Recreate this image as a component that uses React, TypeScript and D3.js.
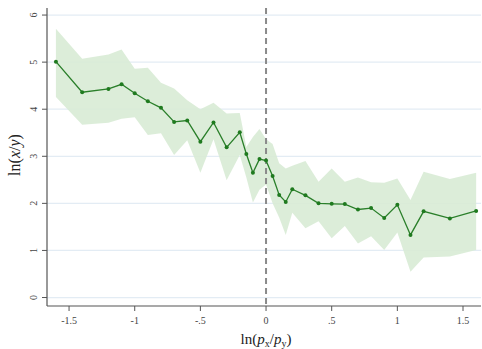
import React from "react";
import * as d3 from "d3";

const xs = [-1.6, -1.4, -1.2, -1.1, -1.0, -0.9, -0.8, -0.7, -0.6, -0.5, -0.4, -0.3, -0.2, -0.15, -0.1, -0.05, 0, 0.05, 0.1, 0.15, 0.2, 0.3, 0.4, 0.5, 0.6, 0.7, 0.8, 0.9, 1.0, 1.1, 1.2, 1.4, 1.6];
const est = [5.01, 4.36, 4.43, 4.53, 4.34, 4.17, 4.03, 3.73, 3.76, 3.31, 3.72, 3.19, 3.51, 3.05, 2.65, 2.94, 2.91, 2.58, 2.18, 2.03, 2.30, 2.17, 2.0, 1.99, 1.985, 1.87, 1.90, 1.69, 1.97, 1.33, 1.83, 1.68, 1.84];
const upper = [5.71, 5.07, 5.16, 5.27, 4.86, 4.88, 4.56, 4.44, 4.19, 4.0, 4.14, 3.91, 3.92, 3.2, 3.41, 3.58, 3.36, 3.26, 2.85, 2.74, 2.8, 2.9, 2.46, 2.74, 2.46, 2.55, 2.45, 2.44, 2.53, 2.07, 2.67, 2.52, 2.65];
const lower = [4.26, 3.67, 3.71, 3.8, 3.83, 3.45, 3.49, 3.03, 3.34, 2.65, 3.36, 2.49, 3.03, 2.55, 2.02, 2.29, 2.4, 2.0, 1.7, 1.33, 1.8, 1.47, 1.62, 1.26, 1.52, 1.15, 1.3, 1.01, 1.38, 0.55, 0.85, 0.87, 1.01];
const xTicks = [-1.5, -1, -0.5, 0, 0.5, 1, 1.5];
const xTickLabels = ["-1.5", "-1", "-.5", "0", ".5", "1", "1.5"];
const yTicks = [0, 1, 2, 3, 4, 5, 6];

export default function App() {
  const W = 482, H = 349;
  const left = 47, right = 481, top = 8, bottom = 306;
  const x = d3.scaleLinear().domain([-1.668, 1.637]).range([left, right]);
  const y = d3.scaleLinear().domain([-0.18, 6.15]).range([bottom, top]);
  const idx = xs.map((_, i) => i);
  const area = d3.area<number>().x(i => x(xs[i])).y0(i => y(lower[i])).y1(i => y(upper[i]));
  const line = d3.line<number>().x(i => x(xs[i])).y(i => y(est[i]));
  const font = "'Liberation Serif', 'DejaVu Serif', serif";
  return (
    <svg width={W} height={H} style={{ position: "absolute", left: 0, top: 0, background: "#fff" }}>
      <rect width={W} height={H} fill="#fff" />
      {yTicks.map(t => (
        <line key={"g" + t} x1={left} x2={right} y1={y(t)} y2={y(t)} stroke="#e3ecf4" strokeWidth={1.2} />
      ))}
      <path d={area(idx) || ""} fill="#d8ebd5" fillOpacity={0.9} />
      <line x1={x(0)} x2={x(0)} y1={top} y2={bottom} stroke="#8a8a8a" strokeWidth={2} strokeDasharray="6,4" />
      <path d={line(idx) || ""} fill="none" stroke="#2a7f2a" strokeWidth={1.3} />
      {idx.map(i => (
        <circle key={"p" + i} cx={x(xs[i])} cy={y(est[i])} r={2} fill="#1f7a1f" />
      ))}
      <line x1={left} x2={left} y1={top} y2={bottom} stroke="#555" strokeWidth={1.2} />
      <line x1={left} x2={right} y1={bottom} y2={bottom} stroke="#555" strokeWidth={1.2} />
      {yTicks.map(t => (
        <g key={"yt" + t}>
          <line x1={left - 5} x2={left} y1={y(t)} y2={y(t)} stroke="#555" strokeWidth={1} />
          <text transform={`translate(${left - 10},${y(t)}) rotate(-90)`} textAnchor="middle" fontFamily={font} fontSize={10} fill="#444">{t}</text>
        </g>
      ))}
      {xTicks.map((t, i) => (
        <g key={"xt" + t}>
          <line x1={x(t)} x2={x(t)} y1={bottom} y2={bottom + 5} stroke="#555" strokeWidth={1} />
          <text x={x(t)} y={bottom + 18} textAnchor="middle" fontFamily={font} fontSize={10} fill="#444">{xTickLabels[i]}</text>
        </g>
      ))}
      <text x={x(0)} y={344} textAnchor="middle" fontFamily={font} fontSize={15} fill="#222">
        ln(<tspan fontStyle="italic">p</tspan><tspan fontSize={10} dy={3}>x</tspan><tspan dy={-3}>/</tspan><tspan fontStyle="italic">p</tspan><tspan fontSize={10} dy={3}>y</tspan><tspan dy={-3}>)</tspan>
      </text>
      <text transform={`translate(20,155) rotate(-90)`} textAnchor="middle" fontFamily={font} fontSize={16} fill="#222">
        ln(<tspan fontStyle="italic">x</tspan>/<tspan fontStyle="italic">y</tspan>)
      </text>
    </svg>
  );
}
